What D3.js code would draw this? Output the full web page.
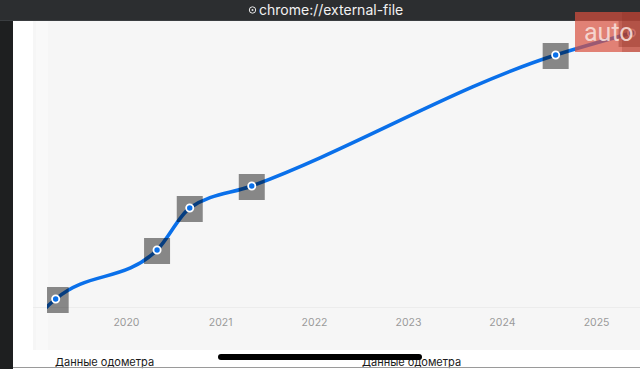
<!DOCTYPE html>
<html>
<head>
<meta charset="utf-8">
<script src="https://cdn.jsdelivr.net/npm/d3@7"></script>
<style>
  html, body { margin: 0; padding: 0; background: #1e1f20; }
  svg { display: block; font-family: Inter, "Noto Sans", sans-serif; }
</style>
</head>
<body>
<div id="chart"></div>
<script>
// odometer readings (dates + km)
let dates = ["2019-02-10", "2019-04-03", "2020-05-01", "2020-09-05", "2021-05-04", "2024-07-28", "2025-05-19"];
let km = [19000, 31000, 80000, 122000, 144000, 275000, 297000];
// the first reading is only partly visible (clipped by the plot edge), so no marker on it
let marked = [false, true, true, true, true, true, true];
let tickYears = [2020, 2021, 2022, 2023, 2024, 2025];
let cardLabels = ["Данные одометра", "Данные одометра"];

let width = 640, height = 369;
let parse = d3.timeParse("%Y-%m-%d");

let data = dates.map((d, i) => ({ date: parse(d), km: km[i], marked: marked[i] }));

let svg = d3.select("#chart").append("svg")
	.attr("width", width)
	.attr("height", height);

// phone frame: dark left edge and browser title bar
svg.append("rect").attr("width", width).attr("height", height).attr("fill", "#1e1f20");
svg.append("rect").attr("x", 13).attr("y", 20).attr("width", width - 13).attr("height", height - 20).attr("fill", "#ffffff");
svg.append("rect").attr("x", 33).attr("y", 20).attr("width", width - 33).attr("height", 330).attr("fill", "#f6f6f6");
svg.append("rect").attr("x", 36).attr("y", 20).attr("width", 12).attr("height", 330).attr("fill", "#f9f9f9");

svg.append("rect").attr("width", width).attr("height", 20).attr("fill", "#2c2e30");
svg.append("line").attr("x1", 0).attr("x2", width).attr("y1", 20.5).attr("y2", 20.5).attr("stroke", "#3a3d40");
svg.append("text")
	.attr("x", 259).attr("y", 15)
	.attr("fill", "#f2f2f2")
	.attr("font-size", 14)
	.text("chrome://external-file");
svg.append("circle").attr("cx", 252.5).attr("cy", 10).attr("r", 3.2).attr("fill", "none").attr("stroke", "#e8e8e8").attr("stroke-width", 1);
svg.append("circle").attr("cx", 252.5).attr("cy", 10).attr("r", 1).attr("fill", "#e8e8e8");

// scales
let x = d3.scaleTime()
	.domain([new Date(2019, 0, 1), new Date(2026, 0, 1)])
	.range([32, 690]);

let y = d3.scaleLinear()
	.domain([0, 300000])
	.range([330, 30]);

// baseline grid line
svg.append("line")
	.attr("x1", 33).attr("x2", width)
	.attr("y1", 307.5).attr("y2", 307.5)
	.attr("stroke", "#ececec");

// x axis, year labels only
let xAxis = d3.axisBottom(x)
	.tickValues(tickYears.map((yr) => new Date(yr, 0, 1)))
	.tickFormat(d3.timeFormat("%Y"))
	.tickSize(0)
	.tickPadding(0);

let gx = svg.append("g")
	.attr("transform", "translate(0,319)")
	.call(xAxis);
gx.select(".domain").remove();
gx.selectAll("text")
	.attr("fill", "#9a9a9a")
	.attr("font-size", 10.5)
	.attr("font-family", "Inter, 'Noto Sans', sans-serif");

// plot clip (line disappears at the left edge)
svg.append("clipPath").attr("id", "plot")
	.append("rect").attr("x", 47).attr("y", 20).attr("width", width - 47).attr("height", 330);

let plot = svg.append("g").attr("clip-path", "url(#plot)");

let line = d3.line()
	.x((d) => x(d.date))
	.y((d) => y(d.km))
	.curve(d3.curveMonotoneX);

plot.append("path")
	.datum(data)
	.attr("d", line)
	.attr("fill", "none")
	.attr("stroke", "#0a70ea")
	.attr("stroke-width", 3.6)
	.attr("stroke-linecap", "round");

let pts = data.filter((d) => d.marked);

// translucent grey squares over each reading
plot.selectAll("rect.mark")
	.data(pts)
	.enter()
	.append("rect")
	.attr("class", "mark")
	.attr("x", (d) => x(d.date) - 13)
	.attr("y", (d) => y(d.km) - 12)
	.attr("width", 26)
	.attr("height", 26)
	.attr("fill", "#000")
	.attr("fill-opacity", 0.45);

plot.selectAll("circle.pt")
	.data(pts)
	.enter()
	.append("circle")
	.attr("class", "pt")
	.attr("cx", (d) => x(d.date))
	.attr("cy", (d) => y(d.km))
	.attr("r", 3.6)
	.attr("fill", "#0a70ea")
	.attr("stroke", "#ffffff")
	.attr("stroke-width", 1.8);

// bottom cards
svg.append("rect").attr("x", 48).attr("y", 350).attr("width", width - 48).attr("height", 19).attr("fill", "#ffffff");
svg.selectAll("text.card")
	.data(cardLabels)
	.enter()
	.append("text")
	.attr("class", "card")
	.attr("x", (d, i) => i === 0 ? 55 : 362)
	.attr("y", 366)
	.attr("fill", "#1a1a1a")
	.attr("font-size", 11)
	.text((d) => d);
svg.append("line").attr("x1", 13).attr("x2", width).attr("y1", 367.5).attr("y2", 367.5).attr("stroke", "#9a9a9a");

// home indicator
svg.append("rect")
	.attr("x", 218).attr("y", 354)
	.attr("width", 204).attr("height", 6)
	.attr("rx", 3)
	.attr("fill", "#000");

// watermark logo
svg.append("rect").attr("x", 575).attr("y", 12).attr("width", 65).attr("height", 40).attr("fill", "#d9503f").attr("fill-opacity", 0.7);
svg.append("rect").attr("x", 622).attr("y", 12).attr("width", 18).attr("height", 40).attr("fill", "#8a2a20").attr("fill-opacity", 0.25);
svg.append("text")
	.attr("x", 584).attr("y", 41)
	.attr("fill", "#f8e0db")
	.attr("fill-opacity", 0.9)
	.attr("font-size", 25)
	.attr("font-family", "Roboto, 'Noto Sans', sans-serif")
	.text("auto");
</script>
</body>
</html>
